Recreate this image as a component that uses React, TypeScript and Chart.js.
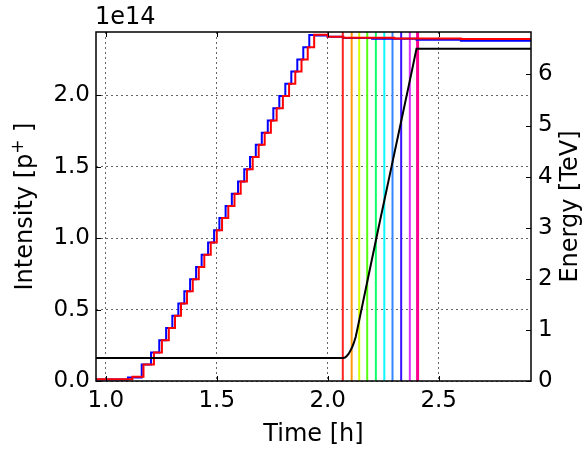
import React, { useEffect, useRef } from "react";
import { Chart, registerables } from "chart.js";

Chart.register(...registerables);

// ---- axis ranges and tick labels ----
const X_MIN = 0.956;
const X_MAX = 2.916;
const Y_MAX = 2.444; // in units of 1e14
const E_MAX = 6.83;
const X_TICKS = [1.0, 1.5, 2.0, 2.5];
const Y_TICKS = [0.0, 0.5, 1.0, 1.5, 2.0];
const E_TICKS = [0, 1, 2, 3, 4, 5, 6];

// ---- beam 1 (blue) intensity, 1e14 p+ ----
const BLUE_T = [
  0.956, 1.1, 1.162, 1.204, 1.241, 1.272, 1.3, 1.327, 1.354, 1.38, 1.407, 1.432,
  1.461, 1.488, 1.512, 1.54, 1.568, 1.596, 1.624, 1.65, 1.676, 1.703, 1.73,
  1.755, 1.782, 1.809, 1.836, 1.863, 1.89, 1.917, 1.943, 2.0, 2.07, 2.2, 2.4,
  2.6, 2.916,
];
const BLUE_I = [
  0.003, 0.01, 0.025, 0.115, 0.2, 0.286, 0.371, 0.457, 0.542, 0.628, 0.713,
  0.799, 0.884, 0.97, 1.055, 1.141, 1.226, 1.312, 1.397, 1.483, 1.568, 1.654,
  1.739, 1.825, 1.91, 1.996, 2.081, 2.167, 2.252, 2.338, 2.423, 2.42, 2.41,
  2.402, 2.396, 2.39, 2.383,
];

// ---- beam 2 (red) intensity, 1e14 p+ ----
const RED_T = [
  0.956, 1.12, 1.17, 1.217, 1.253, 1.284, 1.312, 1.339, 1.366, 1.392, 1.419,
  1.444, 1.473, 1.5, 1.524, 1.552, 1.58, 1.608, 1.636, 1.662, 1.689, 1.716,
  1.744, 1.77, 1.798, 1.826, 1.854, 1.882, 1.91, 1.939, 1.968, 2.0, 2.07, 2.3,
  2.6, 2.916,
];
const RED_I = [
  0.003, 0.012, 0.03, 0.115, 0.2, 0.286, 0.371, 0.457, 0.542, 0.628, 0.713,
  0.799, 0.884, 0.97, 1.055, 1.141, 1.226, 1.312, 1.397, 1.483, 1.568, 1.654,
  1.739, 1.825, 1.91, 1.996, 2.081, 2.167, 2.252, 2.338, 2.425, 2.425, 2.41,
  2.403, 2.398, 2.395,
];

// ---- beam energy, TeV ----
const ENERGY_T = [
  0.956, 2.07, 2.078, 2.086, 2.094, 2.102, 2.11, 2.118, 2.126, 2.133, 2.181,
  2.229, 2.278, 2.327, 2.376, 2.4, 2.916,
];
const ENERGY_V = [
  0.45, 0.45, 0.46, 0.49, 0.53, 0.59, 0.66, 0.75, 0.86, 1.0, 2.0, 3.0, 4.0,
  5.0, 6.0, 6.5, 6.5,
];

// ---- vertical marker lines ----
const MARKER_T = [2.068, 2.108, 2.142, 2.178, 2.217, 2.255, 2.292, 2.331, 2.37, 2.405];
const MARKER_COLORS = [
  "#ff2020", "#ff9a10", "#d4ff00", "#55ff10", "#10ff66",
  "#10f8ff", "#3388ff", "#3a10ff", "#dd30ff", "#ff0090",
];
const MARKER_WIDTHS = [2, 2, 2, 2, 2, 2, 2, 2, 2, 3];

const FONT = '"DejaVu Sans", sans-serif';

const framePlugin = {
  id: "frame",
  afterDatasetsDraw(chart: any) {
    const { ctx, chartArea: a, scales } = chart;
    ctx.save();
    ctx.strokeStyle = "#000";
    ctx.lineWidth = 1;
    const L = 5;
    ctx.beginPath();
    for (const v of X_TICKS) {
      const x = Math.round(scales.x.getPixelForValue(v)) + 0.5;
      ctx.moveTo(x, a.bottom);
      ctx.lineTo(x, a.bottom - L);
      ctx.moveTo(x, a.top);
      ctx.lineTo(x, a.top + L);
    }
    for (const v of Y_TICKS) {
      const y = Math.round(scales.y.getPixelForValue(v)) + 0.5;
      ctx.moveTo(a.left, y);
      ctx.lineTo(a.left + L, y);
    }
    for (const v of E_TICKS) {
      const y = Math.round(scales.y1.getPixelForValue(v)) + 0.5;
      ctx.moveTo(a.right, y);
      ctx.lineTo(a.right - L, y);
    }
    ctx.stroke();
    ctx.lineWidth = 1.5;
    ctx.strokeRect(a.left, a.top, a.right - a.left, a.bottom - a.top);

    ctx.fillStyle = "#000";
    ctx.font = `24px ${FONT}`;
    ctx.textBaseline = "alphabetic";
    ctx.textAlign = "left";
    ctx.fillText("1e14", 95, 24);
    ctx.textAlign = "center";
    ctx.fillText("Time [h]", (a.left + a.right) / 2, 441);

    const cy = (a.top + a.bottom) / 2;
    // left label with superscript
    ctx.save();
    ctx.translate(32, cy);
    ctx.rotate(-Math.PI / 2);
    ctx.textAlign = "left";
    const p1 = "Intensity [p";
    const p3 = " ]";
    ctx.font = `24px ${FONT}`;
    const w1 = ctx.measureText(p1).width;
    const w3 = ctx.measureText(p3).width;
    ctx.font = `17px ${FONT}`;
    const w2 = ctx.measureText("+").width;
    const total = w1 + w2 + w3;
    const x0 = -total / 2;
    ctx.font = `24px ${FONT}`;
    ctx.fillText(p1, x0, 0);
    ctx.font = `17px ${FONT}`;
    ctx.fillText("+", x0 + w1, -9);
    ctx.font = `24px ${FONT}`;
    ctx.fillText(p3, x0 + w1 + w2, 0);
    ctx.restore();

    ctx.save();
    ctx.translate(577, cy);
    ctx.rotate(-Math.PI / 2);
    ctx.textAlign = "center";
    ctx.font = `24px ${FONT}`;
    ctx.fillText("Energy [TeV]", 0, 0);
    ctx.restore();

    ctx.restore();
  },
};

export default function App() {
  const ref = useRef<HTMLCanvasElement | null>(null);

  useEffect(() => {
    const canvas = ref.current;
    if (!canvas) return;

    const energy = {
      label: "Energy",
      data: ENERGY_T.map((t, i) => ({ x: t, y: ENERGY_V[i] })),
      yAxisID: "y1",
      borderColor: "#000000",
      borderWidth: 2,
      pointRadius: 0,
      fill: false,
      tension: 0,
    };
    const red = {
      label: "Beam 2",
      data: RED_T.map((t, i) => ({ x: t, y: RED_I[i] })),
      yAxisID: "y",
      borderColor: "#ff0000",
      borderWidth: 2,
      pointRadius: 0,
      stepped: "after" as const,
      fill: false,
    };
    const blue = {
      label: "Beam 1",
      data: BLUE_T.map((t, i) => ({ x: t, y: BLUE_I[i] })),
      yAxisID: "y",
      borderColor: "#0000ff",
      borderWidth: 2,
      pointRadius: 0,
      stepped: "after" as const,
      fill: false,
    };
    const markers = MARKER_T.map((t, i) => ({
      label: "m" + i,
      data: [
        { x: t, y: 0 },
        { x: t, y: Y_MAX },
      ],
      yAxisID: "y",
      borderColor: MARKER_COLORS[i],
      borderWidth: MARKER_WIDTHS[i],
      pointRadius: 0,
      fill: false,
    }));

    const tickFont = { family: FONT, size: 23 };

    const chart = new Chart(canvas, {
      type: "line",
      data: { datasets: [energy, red, blue, ...markers] as any },
      options: {
        animation: false,
        responsive: false,
        devicePixelRatio: 1,
        layout: { padding: { top: 32, left: 0, right: 0, bottom: 0 } },
        plugins: { legend: { display: false }, tooltip: { enabled: false } },
        elements: { point: { radius: 0 } },
        scales: {
          x: {
            type: "linear",
            min: X_MIN,
            max: X_MAX,
            afterBuildTicks: (s: any) => {
              s.ticks = X_TICKS.map((v) => ({ value: v }));
            },
            afterFit: (s: any) => {
              s.height = 71;
            },
            ticks: {
              font: tickFont,
              color: "#000",
              padding: 6,
              maxRotation: 0,
              autoSkip: false,
              callback: (v: any) => Number(v).toFixed(1),
            },
            grid: { color: "rgba(0,0,0,0.6)", lineWidth: 1, drawTicks: false },
            border: { display: false, dash: [2, 3] },
          },
          y: {
            type: "linear",
            position: "left",
            min: 0,
            max: Y_MAX,
            afterBuildTicks: (s: any) => {
              s.ticks = Y_TICKS.map((v) => ({ value: v }));
            },
            afterFit: (s: any) => {
              s.width = 96;
            },
            ticks: {
              font: tickFont,
              color: "#000",
              padding: 6,
              callback: (v: any) => Number(v).toFixed(1),
            },
            grid: { color: "rgba(0,0,0,0.6)", lineWidth: 1, drawTicks: false },
            border: { display: false, dash: [2, 3] },
          },
          y1: {
            type: "linear",
            position: "right",
            min: 0,
            max: E_MAX,
            afterBuildTicks: (s: any) => {
              s.ticks = E_TICKS.map((v) => ({ value: v }));
            },
            afterFit: (s: any) => {
              s.width = 55;
            },
            ticks: {
              font: tickFont,
              color: "#000",
              padding: 7,
              callback: (v: any) => String(v),
            },
            grid: { display: false, drawTicks: false },
            border: { display: false },
          },
        },
      },
      plugins: [framePlugin],
    });

    return () => chart.destroy();
  }, []);

  return (
    <div style={{ position: "absolute", left: 0, top: 0, width: 586, height: 452, background: "#fff" }}>
      <canvas ref={ref} width={586} height={452} style={{ width: "586px", height: "452px", display: "block" }} />
    </div>
  );
}
